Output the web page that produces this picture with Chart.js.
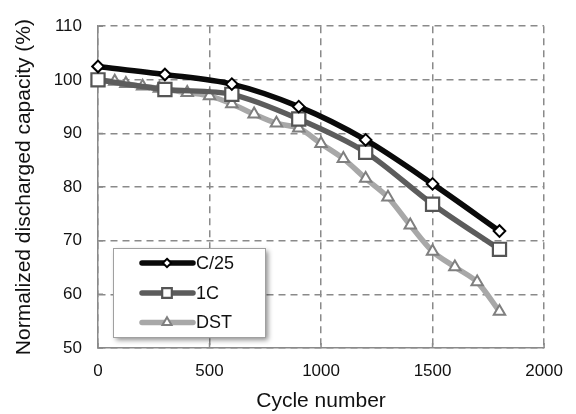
<!DOCTYPE html>
<html><head><meta charset="utf-8">
<script src="https://cdn.jsdelivr.net/npm/chart.js@4"></script>
<style>html,body{margin:0;padding:0;background:#fff}#wrap{width:576px;height:414px}</style>
</head><body><div id="wrap"><canvas id="c" width="576" height="414"></canvas></div>
<script>
const seriesNames = ['C/25', '1C', 'DST'];
const cyclesC25 = [0, 300, 600, 900, 1200, 1500, 1800];
const valuesC25 = [102.5, 101.0, 99.2, 95.0, 88.8, 80.6, 71.8];
const cycles1C = [0, 300, 600, 900, 1200, 1500, 1800];
const values1C = [100.0, 98.2, 97.3, 92.7, 86.5, 76.8, 68.4];
const cyclesDST = [0, 75, 125, 200, 275, 400, 500, 600, 700, 800, 900, 1000, 1100, 1200, 1300, 1400, 1500, 1600, 1700, 1800];
const valuesDST = [99.9, 99.7, 99.3, 98.8, 98.4, 97.6, 97.0, 95.5, 93.6, 91.9, 91.0, 88.1, 85.3, 81.6, 78.1, 72.9, 68.0, 65.1, 62.3, 56.8];
const xTicks = [0, 500, 1000, 1500, 2000];
const yTicks = [50, 60, 70, 80, 90, 100, 110];

const toXY = (xs, ys) => xs.map((x, i) => ({x: x, y: ys[i]}));
const FONT = 'Liberation Sans, Arial, sans-serif';
const GRID = '#8a8a8a';

const innerTicks = {
  id: 'innerTicks',
  beforeDatasetsDraw(chart) {
    const ctx = chart.ctx, a = chart.chartArea;
    ctx.save();
    ctx.strokeStyle = GRID; ctx.lineWidth = 1.5;
    ctx.beginPath();
    chart.scales.x.ticks.forEach(t => {
      const px = chart.scales.x.getPixelForValue(t.value);
      ctx.moveTo(px, a.bottom); ctx.lineTo(px, a.bottom - 5);
    });
    chart.scales.y.ticks.forEach(t => {
      const py = chart.scales.y.getPixelForValue(t.value);
      ctx.moveTo(a.left, py); ctx.lineTo(a.left + 5, py);
    });
    ctx.stroke();
    ctx.restore();
  }
};

const legendPlugin = {
  id: 'boxLegend',
  afterDraw(chart) {
    const ctx = chart.ctx;
    const bx = 113, by = 248, bw = 152, bh = 89;
    ctx.save();
    ctx.shadowColor = 'rgba(0,0,0,0.45)';
    ctx.shadowBlur = 5;
    ctx.shadowOffsetX = 3;
    ctx.shadowOffsetY = 3;
    ctx.fillStyle = '#fff';
    ctx.fillRect(bx, by, bw, bh);
    ctx.restore();
    ctx.save();
    ctx.strokeStyle = '#a0a0a0';
    ctx.lineWidth = 1;
    ctx.strokeRect(bx + 0.5, by + 0.5, bw, bh);
    const rows = [263, 293, 322.5];
    const legendR = {rectRot: 4.2, rect: 6.8, triangle: 5.2};
    chart.data.datasets.forEach((ds, i) => {
      const y = rows[i], cx = 167;
      ctx.strokeStyle = ds.borderColor;
      ctx.lineWidth = 5.5;
      ctx.lineCap = 'round';
      ctx.beginPath(); ctx.moveTo(142, y); ctx.lineTo(193, y); ctx.stroke();
      ctx.lineCap = 'butt';
      ctx.fillStyle = ds.pointBackgroundColor;
      ctx.strokeStyle = ds.pointBorderColor;
      ctx.lineWidth = ds.pointBorderWidth;
      ctx.beginPath();
      const r = legendR[ds.pointStyle];
      if (ds.pointStyle === 'rectRot') {
        ctx.moveTo(cx, y - r); ctx.lineTo(cx + r, y); ctx.lineTo(cx, y + r); ctx.lineTo(cx - r, y); ctx.closePath();
      } else if (ds.pointStyle === 'rect') {
        const s = r * Math.SQRT1_2; ctx.rect(cx - s, y - s, 2 * s, 2 * s);
      } else {
        ctx.moveTo(cx, y - r);
        ctx.lineTo(cx + r * Math.sin(Math.PI / 3), y + r * 0.5);
        ctx.lineTo(cx - r * Math.sin(Math.PI / 3), y + r * 0.5);
        ctx.closePath();
      }
      ctx.fill(); ctx.stroke();
      ctx.fillStyle = '#111';
      ctx.font = '18px ' + FONT;
      ctx.textBaseline = 'middle';
      ctx.textAlign = 'left';
      ctx.fillText(ds.label, 196, y + 1);
    });
    ctx.restore();
  }
};

new Chart(document.getElementById('c'), {
  type: 'line',
  data: {
    datasets: [
      {label: seriesNames[0], data: toXY(cyclesC25, valuesC25), borderColor: '#0a0a0a', borderWidth: 5.5, clip: false,
       pointStyle: 'rectRot', pointRadius: 5.8, pointBorderWidth: 2, pointBackgroundColor: '#fff', pointBorderColor: '#000'},
      {label: seriesNames[1], data: toXY(cycles1C, values1C), borderColor: '#5c5c5c', borderWidth: 5.5, clip: false,
       pointStyle: 'rect', pointRadius: 9.3, pointBorderWidth: 2.2, pointBackgroundColor: '#fff', pointBorderColor: '#555'},
      {label: seriesNames[2], data: toXY(cyclesDST, valuesDST), borderColor: '#a8a8a8', borderWidth: 5.5, clip: false,
       pointStyle: 'triangle', pointRadius: 6.6, pointBorderWidth: 2, pointBackgroundColor: '#fff', pointBorderColor: '#7f7f7f'}
    ]
  },
  options: {
    responsive: false,
    animation: false,
    devicePixelRatio: 1,
    layout: {padding: {left: 0, right: 31, top: 18, bottom: 0}},
    elements: {line: {tension: 0.3, borderCapStyle: 'round', borderJoinStyle: 'round'}},
    plugins: {legend: {display: false}, tooltip: {enabled: false}},
    scales: {
      x: {
        type: 'linear', min: 0, max: 2000,
        afterBuildTicks: s => { s.ticks = xTicks.map(v => ({value: v})); },
        afterFit: s => { s.height = 66; },
        grid: {color: GRID, lineWidth: 1.5, drawTicks: false},
        border: {display: true, color: GRID, width: 1.5, dash: [7, 5]},
        ticks: {color: '#111', font: {family: FONT, size: 17}, padding: 13, maxRotation: 0, callback: v => String(v)},
        title: {display: true, text: 'Cycle number', color: '#111', font: {family: FONT, size: 21}, padding: {top: 0, bottom: 0}}
      },
      y: {
        type: 'linear', min: 50, max: 110,
        afterBuildTicks: s => { s.ticks = yTicks.map(v => ({value: v})); },
        afterFit: s => { s.width = 98; },
        grid: {color: GRID, lineWidth: 1.5, drawTicks: false},
        border: {display: true, color: GRID, width: 1.5, dash: [7, 5]},
        ticks: {color: '#111', font: {family: FONT, size: 17}, padding: 16, callback: v => String(v)},
        title: {display: true, text: 'Normalized discharged capacity (%)', color: '#111', font: {family: FONT, size: 21}, padding: {top: 12, bottom: 0}}
      }
    }
  },
  plugins: [innerTicks, legendPlugin]
});
</script></body></html>
